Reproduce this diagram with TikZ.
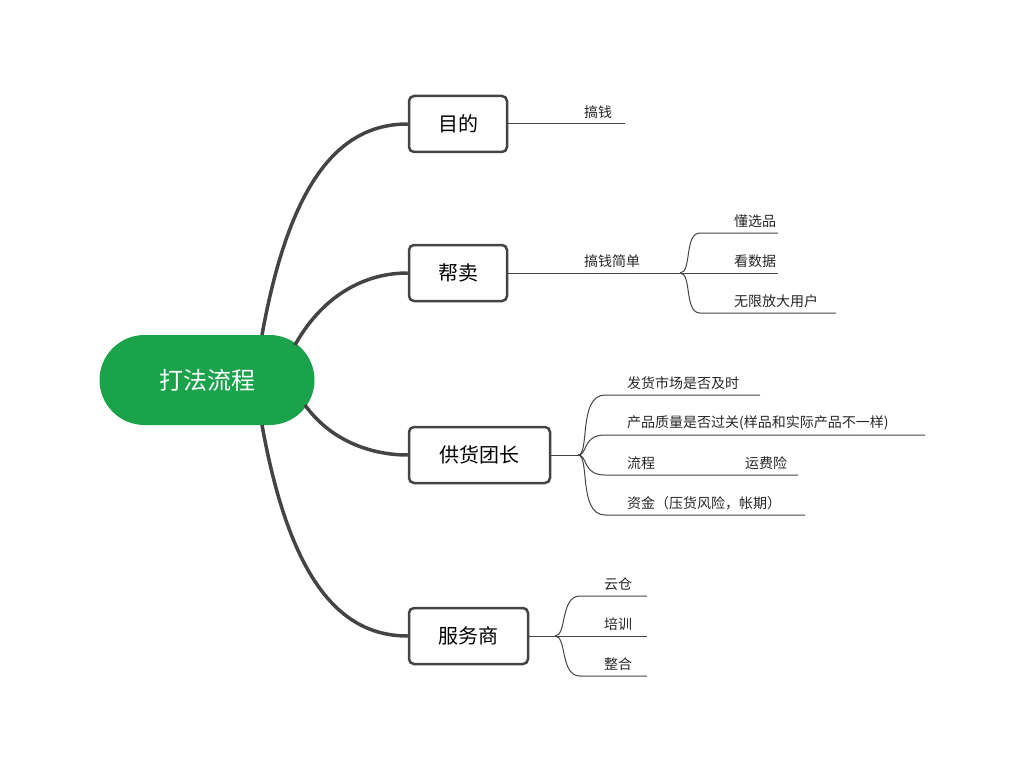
\documentclass[tikz,border=0pt]{standalone}
\usepackage{fontspec}
\setmainfont{Noto Sans CJK SC}
\usetikzlibrary{positioning}
\definecolor{rootgreen}{RGB}{26,163,74}
\definecolor{linegray}{RGB}{68,68,68}
\tikzset{
  topic/.style={draw=linegray, line width=2.5pt, rounded corners=5pt, fill=white, minimum height=56pt, font=\fontsize{20}{24}\selectfont, inner xsep=10pt},
  main/.style={line width=3.5pt, draw=linegray},
  sub/.style={line width=1pt, draw=linegray},
  leaf/.style={anchor=south west, inner sep=2pt, font=\fontsize{14}{17}\selectfont, text=black!85}
}
\begin{document}
\begin{tikzpicture}[x=1pt,y=-1pt]
    \useasboundingbox (0,0) rectangle (1024,770);

    \node[fill=rootgreen, rounded corners=45pt, minimum width=215pt, minimum height=90pt, text=white, font=\fontsize{24}{28}\selectfont] (root) at (207,380) {打法流程};

    \node[topic, minimum width=98pt] (aim) at (458,124) {目的};
    \node[topic, minimum width=98pt] (help) at (458,273) {帮卖};
    \node[topic, minimum width=141pt] (supply) at (479.5,455) {供货团长};
    \node[topic, minimum width=119pt] (service) at (468.5,636) {服务商};

    \coordinate (r1) at (262,335);
    \coordinate (r2) at (295,345);
    \coordinate (r3) at (305,405);
    \coordinate (r4) at (262,425);
    \begin{scope}[on background layer/.style={}]
    \draw[main] (r1) .. controls (290,180) and (340,124) .. (aim.west);
    \draw[main] (r2) .. controls (320,300) and (360,273) .. (help.west);
    \draw[main] (r3) .. controls (330,440) and (370,455) .. (supply.west);
    \draw[main] (r4) .. controls (290,580) and (340,636) .. (service.west);
    \end{scope}

    % 目的
    \coordinate (aimEnd) at (625,124);
    \draw[sub] (aim.east) -- (aimEnd);
    \node[leaf] (money) at (582,121) {搞钱};

    % 帮卖
    \coordinate (easy) at (680,273);
    \draw[sub] (help.east) -- (easy);
    \node[leaf] (easyText) at (582,270) {搞钱简单};
    \coordinate (h1) at (778,233);
    \coordinate (h2) at (778,273);
    \coordinate (h3) at (836,313);
    \draw[sub] (easy) .. controls (692,273) and (684,233) .. (700,233) -- (h1);
    \draw[sub] (easy) -- (h2);
    \draw[sub] (easy) .. controls (692,273) and (684,313) .. (700,313) -- (h3);
    \node[leaf] (pick) at (732,230) {懂选品};
    \node[leaf] (data) at (732,270) {看数据};
    \node[leaf] (users) at (732,310) {无限放大用户};

    % 供货团长
    \coordinate (sFork) at (578,455);
    \draw[sub] (supply.east) -- (sFork);
    \coordinate (s1) at (760,395);
    \coordinate (s2) at (925,435);
    \coordinate (s3) at (798,475);
    \coordinate (s4) at (805,515);
    \draw[sub] (sFork) .. controls (590,455) and (578,395) .. (605,395) -- (s1);
    \draw[sub] (sFork) .. controls (588,455) and (582,435) .. (605,435) -- (s2);
    \draw[sub] (sFork) .. controls (588,455) and (582,475) .. (605,475) -- (s3);
    \draw[sub] (sFork) .. controls (590,455) and (578,515) .. (605,515) -- (s4);
    \node[leaf] (ship) at (625,392) {发货市场是否及时};
    \node[leaf] (quality) at (625,432) {产品质量是否过关(样品和实际产品不一样)};
    \node[leaf] (flow) at (625,472) {流程};
    \node[leaf] (insure) at (743,472) {运费险};
    \node[leaf] (fund) at (625,512) {资金（压货风险，帐期）};

    % 服务商
    \coordinate (vFork) at (555,636);
    \draw[sub] (service.east) -- (vFork);
    \coordinate (v1) at (647,596);
    \coordinate (v2) at (647,636);
    \coordinate (v3) at (647,676);
    \draw[sub] (vFork) .. controls (567,636) and (560,596) .. (580,596) -- (v1);
    \draw[sub] (vFork) -- (v2);
    \draw[sub] (vFork) .. controls (567,636) and (560,676) .. (580,676) -- (v3);
    \node[leaf] (cloud) at (602,593) {云仓};
    \node[leaf] (train) at (602,633) {培训};
    \node[leaf] (merge) at (602,673) {整合};
\end{tikzpicture}
\end{document}
